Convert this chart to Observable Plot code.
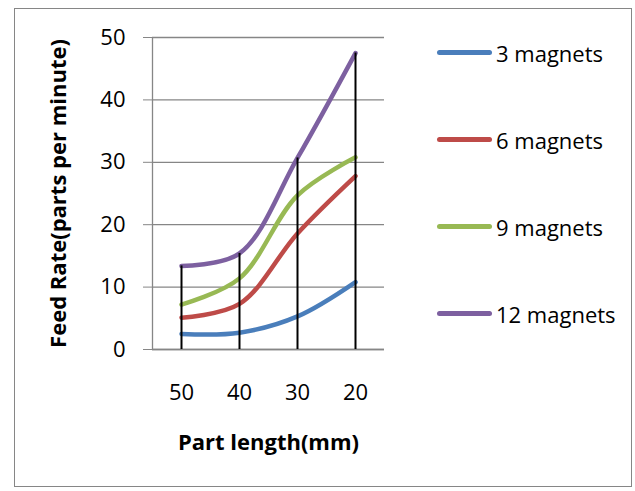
<!DOCTYPE html>
<html>
<head>
<meta charset="utf-8">
<script src="https://cdn.jsdelivr.net/npm/d3@7"></script>
<script src="https://cdn.jsdelivr.net/npm/@observablehq/plot@0.6"></script>
<style>
  html, body { margin: 0; padding: 0; background: #fff; }
  #wrap { position: relative; width: 635px; height: 491px; font-family: "Open Sans", sans-serif; }
  #border { position: absolute; left: 14px; top: 8px; width: 618px; height: 479px; border: 1px solid #868686; box-sizing: border-box; }
  #chart { position: absolute; left: 0; top: 0; }
  #legend { position: absolute; left: 437px; top: 9px; }
  .item { display: flex; align-items: center; height: 87px; font-size: 22px; color: #000; }
  .swatch { width: 55px; height: 4.5px; border-radius: 3px; margin-right: 4px; }
</style>
</head>
<body>
<div id="wrap">
  <div id="border"></div>
  <div id="chart"></div>
  <div id="legend"></div>
</div>
<script>
const categories = [50, 40, 30, 20];
const seriesNames = ["3 magnets", "6 magnets", "9 magnets", "12 magnets"];
const magnets3 = [2.5, 2.7, 5.3, 10.8];
const magnets6 = [5.1, 7.3, 18.6, 27.8];
const magnets9 = [7.2, 11.4, 24.7, 30.8];
const magnets12 = [13.4, 15.4, 30.7, 47.5];
const colors = ["#4a7ebb", "#be4b48", "#98b954", "#7d60a0"];
const yTicks = [0, 10, 20, 30, 40, 50];

const values = [magnets3, magnets6, magnets9, magnets12];
const rows = values.flatMap((vals, si) =>
  categories.map((c, i) => ({series: seriesNames[si], length: c, rate: vals[i]})));
const drops = categories.map((c, i) => ({length: c, top: d3.max(values, v => v[i])}));

const chart = Plot.plot({
  width: 635,
  height: 491,
  marginLeft: 152,
  marginRight: 251,
  marginTop: 37,
  marginBottom: 142,
  style: {fontFamily: "Open Sans, sans-serif", fontSize: "22px", color: "#000", background: "transparent"},
  x: {domain: [55, 15]},
  y: {domain: [0, 50]},
  color: {domain: seriesNames, range: colors},
  marks: [
    Plot.gridY(yTicks, {stroke: "#868686", strokeOpacity: 1, strokeWidth: 1.3}),
    Plot.ruleX([55], {stroke: "#868686", strokeWidth: 1.3}),
    Plot.ruleY([0], {stroke: "#868686", strokeWidth: 1.3}),
    Plot.line(rows, {x: "length", y: "rate", z: "series", stroke: "series", curve: "catmull-rom", strokeWidth: 4.5, strokeLinecap: "round"}),
    Plot.ruleX(drops, {x: "length", y1: 0, y2: "top", stroke: "#000", strokeWidth: 2}),
    Plot.axisY({ticks: yTicks, tickSize: 9, tickPadding: 18, stroke: "#868686", strokeOpacity: 1, label: null}),
    Plot.axisY({ticks: [], label: "Feed Rate(parts per minute)", labelArrow: "none", labelAnchor: "center", labelOffset: 102, fontWeight: "bold", fontSize: 22}),
    Plot.axisX({ticks: categories, tickSize: 0, tickPadding: 35, label: null}),
    Plot.axisX({ticks: [], label: "Part length(mm)", labelArrow: "none", labelAnchor: "center", labelOffset: 100, fontWeight: "bold", fontSize: 22})
  ]
});
document.getElementById("chart").appendChild(chart);

const legend = document.getElementById("legend");
seriesNames.forEach((name, i) => {
  const item = document.createElement("div");
  item.className = "item";
  const sw = document.createElement("div");
  sw.className = "swatch";
  sw.style.background = colors[i];
  const label = document.createElement("span");
  label.textContent = name;
  item.appendChild(sw);
  item.appendChild(label);
  legend.appendChild(item);
});
</script>
</body>
</html>
